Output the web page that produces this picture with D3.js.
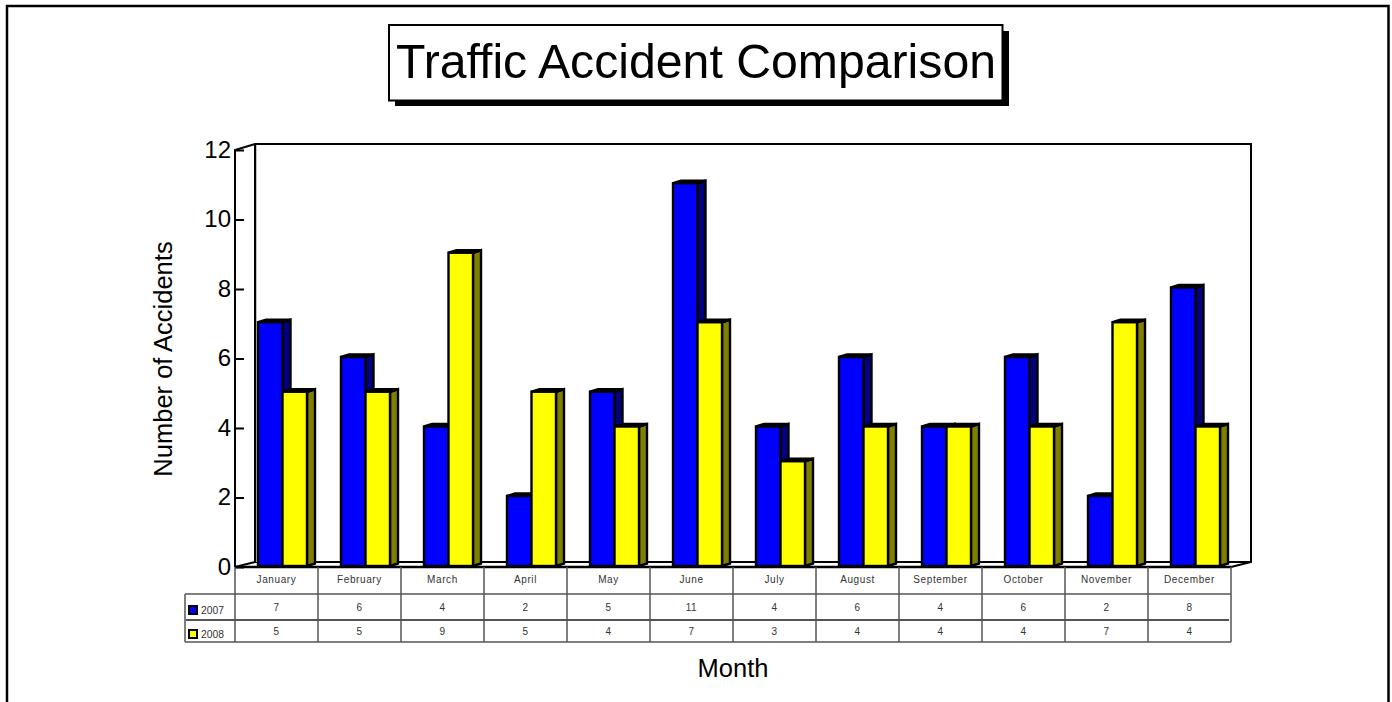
<!DOCTYPE html>
<html><head><meta charset="utf-8">
<script src="https://cdn.jsdelivr.net/npm/d3@7"></script>
<style>html,body{margin:0;padding:0;background:#fff}svg{display:block}text{font-family:"Liberation Sans",Arial,sans-serif;fill:#000}</style>
</head><body><div id="c"></div>
<script>
const months=["January","February","March","April","May","June","July","August","September","October","November","December"];
const seriesNames=["2007","2008"];
const values2007=[7,6,4,2,5,11,4,6,4,6,2,8];
const values2008=[5,5,9,5,4,7,3,4,4,4,7,4];
const yTicks=[0,2,4,6,8,10,12];
const title="Traffic Accident Comparison", yTitle="Number of Accidents", xTitle="Month";
const colors=["#0000ff","#ffff00"], sideColors=["#000080","#808000"];

const W=1392,H=702;
const svg=d3.select("#c").append("svg").attr("width",W).attr("height",H);
// outer frame (open at the bottom)
svg.append("path").attr("d",`M7,${H}V6H1388.5V${H}`).attr("fill","none").attr("stroke","#000").attr("stroke-width",2.5);
// title
svg.append("rect").attr("x",395).attr("y",31).attr("width",614).attr("height",75).attr("fill","#000");
svg.append("rect").attr("x",389).attr("y",25).attr("width",613.5).attr("height",75.5).attr("fill","#fff").attr("stroke","#000").attr("stroke-width",2);
svg.append("text").attr("x",396).attr("y",78).attr("font-size",49).attr("textLength",600).attr("lengthAdjust","spacingAndGlyphs").text(title);

const L=235,R=1231,dX=20,dY=5,y0=567;
const x=d3.scaleBand().domain(months).range([L,R]);
const y=d3.scaleLinear().domain([0,12]).range([y0,150]);
const barOff=23,barW=24.5,bdx=8,bdy=2.5,barLift=1.5;

// walls
const wall=svg.append("g").attr("fill","none").attr("stroke","#000");
wall.append("path").attr("stroke-width",2).attr("d",`M${L},${y0}V${y(12)}L${L+dX},${y(12)-6}H${R+dX}V${y0-dY}L${R},${y0}`);
wall.append("path").attr("stroke-width",2).attr("d",`M${L},${y0}L${L+dX},${y0-dY}H${R+dX}`);
wall.append("path").attr("stroke-width",2).attr("d",`M${L+dX},${y0-dY}V${y(12)-6}`);
svg.append("line").attr("x1",L+dX+1.5).attr("x2",L+dX+1.5).attr("y1",y(12)-5).attr("y2",y0-dY).attr("stroke","#c0c0c0").attr("stroke-width",1);

// axis
const axis=d3.axisLeft(y).tickValues(yTicks).tickSizeInner(-9).tickSizeOuter(0).tickPadding(4);
const ag=svg.append("g").attr("transform",`translate(${L},0)`).call(axis);
ag.select(".domain").remove();
ag.selectAll("line").attr("stroke","#000").attr("stroke-width",2);
ag.selectAll("text").attr("font-size",24).attr("fill","#000").attr("dy","0.3em").style("font-family",'"Liberation Sans"');

// bars
[values2007,values2008].forEach((vals,s)=>{
  const g=svg.append("g");
  months.forEach((m,i)=>{
    const x1=x(m)+barOff+s*barW, x2=x1+barW, yt=y(vals[i])-barLift, yb=y0-1;
    const side=`M${x2},${yb}L${x2+bdx},${yb-bdy}V${yt-bdy}L${x2},${yt}Z`;
    const top=`M${x1},${yt}L${x1+bdx},${yt-bdy}H${x2+bdx}L${x2},${yt}Z`;
    g.append("path").attr("d",side).attr("fill",sideColors[s]).attr("stroke","#000").attr("stroke-width",2.4);
    g.append("path").attr("d",top).attr("fill",colors[s]).attr("stroke","#000").attr("stroke-width",2.4);
    g.append("rect").attr("x",x1).attr("y",yt).attr("width",barW).attr("height",yb-yt).attr("fill",colors[s]).attr("stroke","#000").attr("stroke-width",2.4);
  });
});
svg.append("line").attr("x1",L).attr("x2",R).attr("y1",y0).attr("y2",y0).attr("stroke","#000").attr("stroke-width",2.5);

// data table
const rowY=[567,594,620,642], tl=185;
const tg=svg.append("g").attr("stroke","#555").attr("stroke-width",1.5).attr("fill","none");
tg.append("line").attr("x1",tl).attr("x2",R).attr("y1",rowY[1]).attr("y2",rowY[1]);
tg.append("line").attr("x1",tl+1).attr("x2",R-2).attr("y1",rowY[2]).attr("y2",rowY[2]).attr("stroke-width",2);
tg.append("line").attr("x1",tl).attr("x2",R).attr("y1",rowY[3]).attr("y2",rowY[3]);
tg.append("line").attr("x1",tl).attr("x2",tl).attr("y1",rowY[1]).attr("y2",rowY[3]);
months.forEach(m=>tg.append("line").attr("x1",x(m)).attr("x2",x(m)).attr("y1",y0).attr("y2",rowY[3]));
tg.append("line").attr("x1",R).attr("x2",R).attr("y1",y0).attr("y2",rowY[3]);
const tx=svg.append("g").attr("font-size",10).attr("text-anchor","middle").style("letter-spacing","0.6px");
months.forEach((m,i)=>{
  const c=x(m)+x.bandwidth()/2;
  tx.append("text").attr("x",c).attr("y",583).text(m).style("fill","#333");
  tx.append("text").attr("x",c).attr("y",611).text(values2007[i]).style("fill","#333");
  tx.append("text").attr("x",c).attr("y",635).text(values2008[i]).style("fill","#333");
});
seriesNames.forEach((n,s)=>{
  const cy=[610,634][s];
  svg.append("rect").attr("x",189).attr("y",cy-4).attr("width",8).attr("height",8).attr("fill",colors[s]).attr("stroke","#000").attr("stroke-width",2);
  svg.append("text").attr("x",201).attr("y",cy+3.5).attr("font-size",10.3).style("fill","#333").text(n);
});
// axis titles
svg.append("text").attr("transform","translate(172,359) rotate(-90)").attr("text-anchor","middle").attr("font-size",25.5).text(yTitle);
svg.append("text").attr("x",733).attr("y",677).attr("text-anchor","middle").attr("font-size",25.5).text(xTitle);
</script></body></html>
